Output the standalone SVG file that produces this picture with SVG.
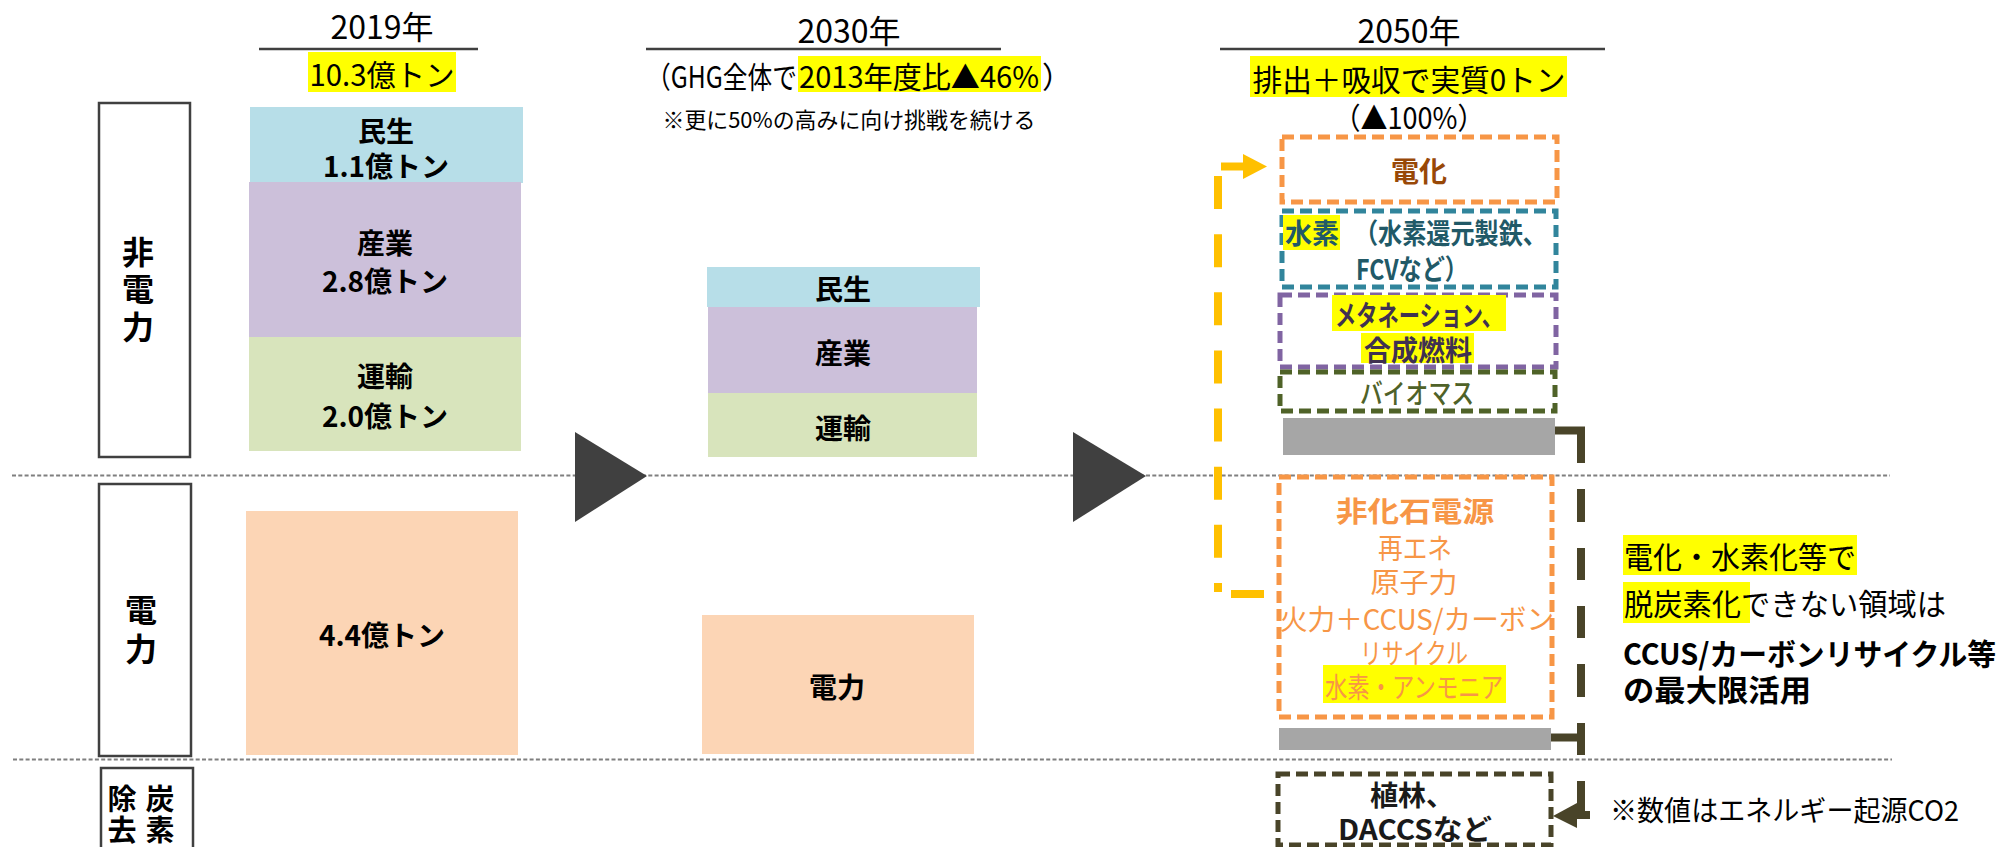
<svg xmlns="http://www.w3.org/2000/svg" width="2008" height="847" viewBox="0 0 2008 847">
<style>
text{font-family:"Noto Sans CJK JP","Noto Sans",sans-serif;dominant-baseline:central;fill:#000}
.c{text-anchor:middle}
.b{font-weight:700}
.hdr{font-size:32px}
.sub{font-size:30px}
.note{font-size:22px}
.bar{font-size:28px;font-weight:700}
.lbl{fill:#fff;stroke:#404040;stroke-width:2.5}
.vt{font-size:32px;font-weight:700;text-anchor:middle}
.vs{font-size:29px;font-weight:700;text-anchor:middle}
.ul{stroke:#404040;stroke-width:2.5}
.hl{fill:#FFFF00}
.div{stroke:#7F7F7F;stroke-width:2;stroke-dasharray:4 2.3;fill:none}
.tri{fill:#404040}
.db{fill:none;stroke-width:5;stroke-dasharray:12 6}
.gray{fill:#A6A6A6}
.yl{stroke:#FFC000;stroke-width:8;fill:none}
.dk{stroke:#494429;stroke-width:8;fill:none}
.rt{font-size:30px}
</style>

<g id="dividers">
<line class="div" x1="12" y1="475.5" x2="1890" y2="475.5"/>
<line class="div" x1="13" y1="759.5" x2="1892" y2="759.5"/>
</g>

<g id="label-hidenryoku">
<rect class="lbl" x="99" y="103" width="91" height="354"/>
<text class="vt"><tspan x="138" y="250">非</tspan><tspan x="138" y="287">電</tspan><tspan x="138" y="325">力</tspan></text>
</g>
<g id="label-denryoku">
<rect class="lbl" x="99" y="484" width="92" height="272"/>
<text class="vt"><tspan x="141" y="608">電</tspan><tspan x="141" y="647">力</tspan></text>
</g>
<g id="label-jokyo">
<rect class="lbl" x="101" y="768" width="92" height="84"/>
<text class="vs"><tspan x="122" y="797">除</tspan><tspan x="160" y="797">炭</tspan><tspan x="122" y="828">去</tspan><tspan x="160" y="828">素</tspan></text>
</g>

<g id="header-2019">
<text class="hdr c" x="382" y="25">2019年</text>
<line class="ul" x1="259" y1="49" x2="478" y2="49"/>
<rect class="hl" x="308" y="52" width="148" height="40"/>
<text class="sub c" x="382" y="73" textLength="145" lengthAdjust="spacingAndGlyphs">10.3億トン</text>
</g>

<g id="bar-2019-minsei">
<rect x="250" y="107" width="273" height="76" fill="#B7DEE8"/>
<text class="bar c"><tspan x="386" y="130">民生</tspan><tspan x="386" y="165">1.1億トン</tspan></text>
</g>
<g id="bar-2019-sangyo">
<rect x="249" y="182" width="272" height="155" fill="#CCC0DA"/>
<text class="bar c"><tspan x="385" y="242">産業</tspan><tspan x="385" y="280">2.8億トン</tspan></text>
</g>
<g id="bar-2019-unyu">
<rect x="249" y="337" width="272" height="114" fill="#D8E4BC"/>
<text class="bar c"><tspan x="385" y="375">運輸</tspan><tspan x="385" y="415">2.0億トン</tspan></text>
</g>
<g id="bar-2019-denryoku">
<rect x="246" y="511" width="272" height="244" fill="#FCD5B5"/>
<text class="bar c" x="382" y="634">4.4億トン</text>
</g>

<g id="arrow-1"><polygon class="tri" points="575,432 647,476 575,522"/></g>
<g id="arrow-2"><polygon class="tri" points="1073,432 1146,476 1073,522"/></g>

<g id="header-2030">
<text class="hdr c" x="849" y="29">2030年</text>
<line class="ul" x1="646" y1="49" x2="1001" y2="49"/>
<rect class="hl" x="798" y="56" width="243" height="36"/>
<text class="sub" x="797" y="75" text-anchor="end" textLength="151" lengthAdjust="spacingAndGlyphs">（GHG全体で</text>
<text class="sub" x="799" y="75" textLength="240" lengthAdjust="spacingAndGlyphs">2013年度比▲46%</text>
<text class="sub" x="1042" y="75">）</text>
<text class="note c" x="849" y="118" textLength="373" lengthAdjust="spacingAndGlyphs">※更に50%の高みに向け挑戦を続ける</text>
</g>

<g id="bar-2030-minsei">
<rect x="707" y="267" width="273" height="40" fill="#B7DEE8"/>
<text class="bar c" x="843" y="288">民生</text>
</g>
<g id="bar-2030-sangyo">
<rect x="708" y="307" width="269" height="86" fill="#CCC0DA"/>
<text class="bar c" x="843" y="352">産業</text>
</g>
<g id="bar-2030-unyu">
<rect x="708" y="393" width="269" height="64" fill="#D8E4BC"/>
<text class="bar c" x="843" y="427">運輸</text>
</g>
<g id="bar-2030-denryoku">
<rect x="702" y="615" width="272" height="139" fill="#FCD5B5"/>
<text class="bar c" x="837" y="686">電力</text>
</g>

<g id="header-2050">
<text class="hdr c" x="1409" y="29">2050年</text>
<line class="ul" x1="1220" y1="49" x2="1605" y2="49"/>
<rect class="hl" x="1250" y="56" width="317" height="41"/>
<text class="sub c" x="1409" y="78" textLength="313" lengthAdjust="spacingAndGlyphs">排出＋吸収で実質0トン</text>
<text class="sub c" x="1409" y="116" textLength="151" lengthAdjust="spacingAndGlyphs">（▲100%）</text>
</g>

<g id="node-denka">
<rect class="db" x="1282" y="137" width="275" height="65" stroke="#F79646"/>
<text class="bar c" x="1419" y="170" style="fill:#984807">電化</text>
</g>
<g id="node-suiso">
<rect class="db" x="1282" y="211" width="274" height="76" stroke="#31859C"/>
<rect class="hl" x="1283" y="215" width="57" height="35"/>
<text class="bar" x="1285" y="232" style="fill:#215967" textLength="54" lengthAdjust="spacingAndGlyphs">水素</text>
<text class="bar" x="1354" y="232" style="fill:#215967" textLength="193" lengthAdjust="spacingAndGlyphs">（水素還元製鉄、</text>
<text class="bar" x="1356" y="268" style="fill:#215967" textLength="112" lengthAdjust="spacingAndGlyphs">FCVなど）</text>
</g>
<g id="node-methanation">
<rect class="db" x="1280" y="295" width="276" height="72" stroke="#8064A2"/>
<rect class="hl" x="1332" y="295" width="174" height="36"/>
<rect class="hl" x="1361" y="333" width="113" height="30"/>
<text class="bar c" x="1419" y="314" style="fill:#3F3151" textLength="168" lengthAdjust="spacingAndGlyphs">メタネーション、</text>
<text class="bar c" x="1418" y="349" style="fill:#3F3151" textLength="108" lengthAdjust="spacingAndGlyphs">合成燃料</text>
</g>
<g id="node-biomass">
<rect class="db" x="1280" y="372" width="275" height="39" stroke="#4F6228"/>
<text class="c" x="1417" y="392" style="font-size:28px;font-weight:500;fill:#4F6228" textLength="114" lengthAdjust="spacingAndGlyphs">バイオマス</text>
</g>
<g id="bar-gray-1"><rect class="gray" x="1283" y="418" width="272" height="37"/></g>

<g id="node-hikaseki">
<rect class="db" x="1279" y="477" width="273" height="240" stroke="#F79646"/>
<text class="bar c" x="1415" y="510" style="fill:#F79646" textLength="158" lengthAdjust="spacingAndGlyphs">非化石電源</text>
<text class="c" x="1415" y="547" style="font-size:28px;fill:#F79646" textLength="74" lengthAdjust="spacingAndGlyphs">再エネ</text>
<text class="c" x="1414" y="581" style="font-size:28px;fill:#F79646" textLength="87" lengthAdjust="spacingAndGlyphs">原子力</text>
<text class="c" x="1417" y="618" style="font-size:28px;fill:#F79646" textLength="274" lengthAdjust="spacingAndGlyphs">火力＋CCUS/カーボン</text>
<text class="c" x="1414" y="652" style="font-size:28px;fill:#F79646" textLength="108" lengthAdjust="spacingAndGlyphs">リサイクル</text>
<rect class="hl" x="1323" y="665" width="183" height="38"/>
<text class="c" x="1414" y="686" style="font-size:28px;fill:#F79646" textLength="178" lengthAdjust="spacingAndGlyphs">水素・アンモニア</text>
</g>
<g id="bar-gray-2"><rect class="gray" x="1279" y="728" width="272" height="22"/></g>

<g id="node-shokurin">
<rect class="db" x="1278" y="774" width="273" height="71" stroke="#494429"/>
<text class="bar c" x="1412" y="794" style="fill:#1A1A1A">植林、</text>
<text class="bar c" x="1415" y="828" style="fill:#1A1A1A" textLength="154" lengthAdjust="spacingAndGlyphs">DACCSなど</text>
</g>

<g id="note-ccus">
<rect class="hl" x="1623" y="535" width="234" height="40"/>
<text class="rt" x="1624" y="555" textLength="232" lengthAdjust="spacingAndGlyphs">電化・水素化等で</text>
<rect class="hl" x="1623" y="582" width="127" height="41"/>
<text class="rt" x="1624" y="602" textLength="322" lengthAdjust="spacingAndGlyphs">脱炭素化できない領域は</text>
<text class="rt b" x="1623" y="652" textLength="373" lengthAdjust="spacingAndGlyphs">CCUS/カーボンリサイクル等</text>
<text class="rt b" x="1623" y="688" textLength="188" lengthAdjust="spacingAndGlyphs">の最大限活用</text>
</g>
<g id="note-co2">
<text x="1610" y="809" style="font-size:28px" textLength="349" lengthAdjust="spacingAndGlyphs">※数値はエネルギー起源CO2</text>
</g>

<g id="connectors">
<line class="yl" x1="1218" y1="176" x2="1218" y2="592" stroke-dasharray="33 25.14"/>
<line class="yl" x1="1231" y1="594" x2="1264" y2="594"/>
<line class="yl" x1="1221" y1="166.5" x2="1245" y2="166.5"/>
<polygon points="1243,154 1267,166.5 1243,179" fill="#FFC000"/>
<line class="dk" x1="1555" y1="430.5" x2="1585" y2="430.5"/>
<line class="dk" x1="1581" y1="427" x2="1581" y2="463"/>
<line class="dk" x1="1581" y1="489" x2="1581" y2="522"/>
<line class="dk" x1="1581" y1="548" x2="1581" y2="580"/>
<line class="dk" x1="1581" y1="606" x2="1581" y2="638"/>
<line class="dk" x1="1581" y1="664" x2="1581" y2="697"/>
<line class="dk" x1="1581" y1="723" x2="1581" y2="755"/>
<line class="dk" x1="1551" y1="737.5" x2="1581" y2="737.5"/>
<line class="dk" x1="1581" y1="781" x2="1581" y2="818"/>
<line class="dk" x1="1575" y1="815" x2="1590" y2="815"/>
<polygon points="1553,816 1577,803 1577,828" fill="#494429"/>
</g>
</svg>
